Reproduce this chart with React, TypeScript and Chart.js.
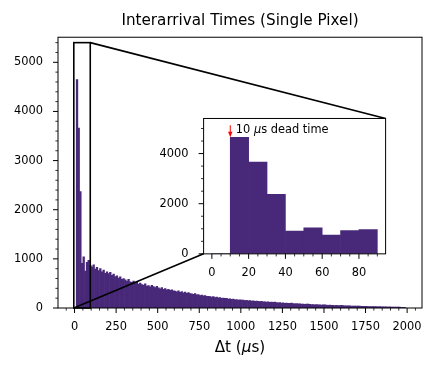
import React, { useEffect, useRef } from "react";
import { Chart, registerables } from "chart.js";

Chart.register(...registerables);

// ---------- data ----------
const BIN_WIDTH = 10; // µs
const FIRST_BIN_START = 0; // µs

// counts per 10 µs bin, bins 0-10, 10-20, ... 1980-1990
const counts: number[] = [
  0, 4650, 3660, 2370, 910, 1040, 750, 930, 970, 870,
  840, 880, 790, 830, 760, 800, 735, 770, 705, 735,
  700, 725, 665, 690, 640, 655, 610, 635, 585, 600,
  575, 550, 585, 535, 520, 550, 500, 525, 485, 505,
  478, 465, 490, 448, 455, 430, 462, 438, 418, 440,
  408, 392, 415, 378, 395, 368, 382, 358, 372, 348,
  342, 328, 350, 318, 332, 308, 322, 300, 312, 292,
  290, 278, 292, 266, 272, 255, 264, 246, 252, 238,
  236, 230, 222, 234, 212, 220, 206, 214, 198, 202,
  195, 198, 184, 188, 174, 182, 168, 173, 163, 168,
  160, 163, 150, 154, 146, 150, 140, 144, 137, 141,
  136, 130, 137, 125, 128, 120, 125, 116, 120, 113,
  118, 112, 106, 109, 101, 104, 97, 100, 93, 96,
  98, 92, 87, 89, 83, 85, 79, 81, 77, 79,
  80, 75, 70, 72, 67, 69, 63, 65, 61, 63,
  66, 60, 56, 58, 53, 55, 50, 52, 48, 50,
  52, 48, 44, 45, 42, 43, 40, 41, 38, 39,
  40, 37, 34, 35, 32, 33, 30, 31, 29, 30,
  30, 28, 26, 27, 24, 25, 23, 23, 21, 22,
  21, 20, 19, 19, 18, 17, 16, 16, 15,
];

const INSET_BIN_COUNT = 9; // bins 0-10 ... 80-90

const TITLE = "Interarrival Times (Single Pixel)";
const XLABEL_PARTS = ["Δt (", "μ", "s)"];
const ANNOT_PARTS = ["10 ", "μ", "s dead time"];
const DEAD_TIME = 10;

// axis ranges and ticks
const MAIN_X_RANGE = [-99.5, 2089.5];
const MAIN_Y_RANGE = [0, 5510];
const MAIN_X_TICKS = { from: -50, to: 2050, minor: 50, major: 250 };
const MAIN_Y_TICKS = { from: 0, to: 5400, minor: 200, major: 1000 };

const INSET_X_RANGE = [-4.5, 94.5];
const INSET_Y_RANGE = [0, 5400];
const INSET_X_TICKS = { from: 0, to: 90, minor: 5, major: 20 };
const INSET_Y_TICKS = { from: 0, to: 5000, minor: 500, major: 2000 };

// ---------- style ----------
const W = 437;
const H = 373;
const FONT = '"DejaVu Sans", "Liberation Sans", sans-serif';
const BAR_COLOR = "#482878";
const TICK_FONT_SIZE = 11.4;
const AREA = { left: 58, right: 422, top: 37.24, bottom: 308 };
const INSET_FRAC = { x: 0.4, y: 0.2, w: 0.5, h: 0.5 };

const areaW = AREA.right - AREA.left;
const areaH = AREA.bottom - AREA.top;
const INSET_AREA = {
  left: AREA.left + INSET_FRAC.x * areaW,
  right: AREA.left + (INSET_FRAC.x + INSET_FRAC.w) * areaW,
  bottom: AREA.bottom - INSET_FRAC.y * areaH,
  top: AREA.bottom - (INSET_FRAC.y + INSET_FRAC.h) * areaH,
};

type TickSpec = { from: number; to: number; minor: number; major: number };

function isMajor(v: number, step: number) {
  return Math.abs(v / step - Math.round(v / step)) < 1e-6;
}

function tickValues(t: TickSpec, majorOnly: boolean) {
  const out: number[] = [];
  for (let v = t.from; v <= t.to + 1e-9; v += t.minor) {
    const r = Math.round(v * 1000) / 1000;
    if (!majorOnly || isMajor(r, t.major)) out.push(r);
  }
  return out;
}

const binData = counts.map((c, i) => ({ x: FIRST_BIN_START + (i + 0.5) * BIN_WIDTH, y: c }));
const insetData = binData.slice(0, INSET_BIN_COUNT);

function drawTickMarks(chart: any, xs: TickSpec, ys: TickSpec) {
  const { ctx, chartArea: ca, scales } = chart;
  ctx.save();
  ctx.strokeStyle = "#000";
  for (const v of tickValues(xs, false)) {
    const major = isMajor(v, xs.major);
    const p = scales.x.getPixelForValue(v);
    ctx.lineWidth = major ? 1 : 0.8;
    ctx.beginPath();
    ctx.moveTo(p, ca.bottom);
    ctx.lineTo(p, ca.bottom + (major ? 5 : 2.6));
    ctx.stroke();
  }
  for (const v of tickValues(ys, false)) {
    const major = isMajor(v, ys.major);
    const p = scales.y.getPixelForValue(v);
    ctx.lineWidth = major ? 1 : 0.8;
    ctx.beginPath();
    ctx.moveTo(ca.left, p);
    ctx.lineTo(ca.left - (major ? 5 : 2.6), p);
    ctx.stroke();
  }
  ctx.lineWidth = 1;
  ctx.strokeRect(ca.left, ca.top, ca.right - ca.left, ca.bottom - ca.top);
  ctx.restore();
}

function drawMixed(ctx: CanvasRenderingContext2D, parts: string[], italicIdx: number, x: number, y: number, size: number, align: "left" | "center") {
  const fonts = parts.map((_, i) => `${i === italicIdx ? "italic " : ""}${size}px ${FONT}`);
  const widths = parts.map((p, i) => {
    ctx.font = fonts[i];
    return ctx.measureText(p).width;
  });
  const total = widths.reduce((a, b) => a + b, 0);
  let cx = align === "center" ? x - total / 2 : x;
  ctx.textAlign = "left";
  ctx.textBaseline = "middle";
  ctx.fillStyle = "#000";
  parts.forEach((p, i) => {
    ctx.font = fonts[i];
    ctx.fillText(p, cx, y);
    cx += widths[i];
  });
}

const mainDecor = {
  id: "mainDecor",
  afterDatasetsDraw(chart: any) {
    const { ctx, chartArea: ca, scales } = chart;
    drawTickMarks(chart, MAIN_X_TICKS, MAIN_Y_TICKS);
    const rx0 = scales.x.getPixelForValue(INSET_X_RANGE[0]);
    const rx1 = scales.x.getPixelForValue(INSET_X_RANGE[1]);
    const ry0 = scales.y.getPixelForValue(INSET_Y_RANGE[0]);
    const ry1 = scales.y.getPixelForValue(INSET_Y_RANGE[1]);
    ctx.save();
    ctx.strokeStyle = "#000";
    ctx.lineWidth = 1.6;
    ctx.strokeRect(rx0, ry1, rx1 - rx0, ry0 - ry1);
    ctx.beginPath();
    ctx.moveTo(rx1, ry1);
    ctx.lineTo(INSET_AREA.right, INSET_AREA.top);
    ctx.moveTo(rx0, ry0);
    ctx.lineTo(INSET_AREA.left, INSET_AREA.bottom);
    ctx.stroke();
    drawMixed(ctx, XLABEL_PARTS, 1, (ca.left + ca.right) / 2, 348, 15.2, "center");
    ctx.restore();
  },
};

const insetDecor = {
  id: "insetDecor",
  beforeDraw(chart: any) {
    const { ctx, chartArea: ca } = chart;
    ctx.save();
    ctx.fillStyle = "#fff";
    ctx.fillRect(ca.left, ca.top, ca.right - ca.left, ca.bottom - ca.top);
    ctx.restore();
  },
  afterDatasetsDraw(chart: any) {
    const { ctx, scales } = chart;
    drawTickMarks(chart, INSET_X_TICKS, INSET_Y_TICKS);
    const ax = scales.x.getPixelForValue(DEAD_TIME);
    const yTail = scales.y.getPixelForValue(5130);
    const yTip = scales.y.getPixelForValue(counts[1]);
    ctx.save();
    ctx.strokeStyle = "#ff0000";
    ctx.fillStyle = "#ff0000";
    ctx.lineWidth = 1;
    ctx.beginPath();
    ctx.moveTo(ax, yTail);
    ctx.lineTo(ax, yTip - 4);
    ctx.stroke();
    ctx.beginPath();
    ctx.moveTo(ax - 2.2, yTip - 5.5);
    ctx.lineTo(ax + 2.2, yTip - 5.5);
    ctx.lineTo(ax, yTip);
    ctx.closePath();
    ctx.fill();
    drawMixed(ctx, ANNOT_PARTS, 1, scales.x.getPixelForValue(13), scales.y.getPixelForValue(4930), TICK_FONT_SIZE, "left");
    ctx.restore();
  },
};

function scaleOpts(range: number[], ticks: TickSpec, labelPad: number, fit: (s: any) => void) {
  return {
    type: "linear" as const,
    min: range[0],
    max: range[1],
    offset: false,
    grid: { display: false, drawTicks: false, tickLength: 0, offset: false },
    border: { display: false },
    afterBuildTicks: (s: any) => {
      s.ticks = tickValues(ticks, true).map((v) => ({ value: v }));
    },
    afterFit: fit,
    ticks: {
      autoSkip: false,
      maxRotation: 0,
      minRotation: 0,
      padding: labelPad,
      color: "#000",
      font: { family: FONT, size: TICK_FONT_SIZE },
      callback: (v: any) => String(v),
    },
  };
}

export default function App() {
  const mainRef = useRef<HTMLCanvasElement>(null);
  const insetRef = useRef<HTMLCanvasElement>(null);

  useEffect(() => {
    const yAxisW = 50;
    const xAxisH = 65;
    const main = new Chart(mainRef.current as HTMLCanvasElement, {
      type: "bar",
      data: {
        datasets: [
          {
            data: binData as any,
            backgroundColor: BAR_COLOR,
            borderWidth: 0,
            barPercentage: 1,
            categoryPercentage: 1,
          },
        ],
      },
      options: {
        animation: false,
        responsive: false,
        devicePixelRatio: 1,
        events: [],
        layout: { padding: { left: AREA.left - yAxisW, right: W - AREA.right, top: 0, bottom: H - AREA.bottom - xAxisH } },
        plugins: {
          legend: { display: false },
          tooltip: { enabled: false },
          title: {
            display: true,
            text: TITLE,
            fullSize: false,
            color: "#000",
            font: { family: FONT, size: 15.2, weight: "normal" as any },
            padding: { top: 11.6, bottom: 7.4 },
          },
        },
        scales: {
          x: { ...scaleOpts(MAIN_X_RANGE, MAIN_X_TICKS, 12, (s: any) => { s.height = xAxisH; }), position: "bottom" },
          y: { ...scaleOpts(MAIN_Y_RANGE, MAIN_Y_TICKS, 15, (s: any) => { s.width = yAxisW; }), position: "left" },
        } as any,
      },
      plugins: [mainDecor],
    });

    const iyW = 60;
    const ixH = 30;
    const inset = new Chart(insetRef.current as HTMLCanvasElement, {
      type: "bar",
      data: {
        datasets: [
          {
            data: insetData as any,
            backgroundColor: BAR_COLOR,
            borderWidth: 0,
            barPercentage: 1,
            categoryPercentage: 1,
          },
        ],
      },
      options: {
        animation: false,
        responsive: false,
        devicePixelRatio: 1,
        events: [],
        layout: {
          padding: {
            left: INSET_AREA.left - iyW,
            right: W - INSET_AREA.right,
            top: INSET_AREA.top,
            bottom: H - INSET_AREA.bottom - ixH,
          },
        },
        plugins: { legend: { display: false }, tooltip: { enabled: false }, title: { display: false } },
        scales: {
          x: { ...scaleOpts(INSET_X_RANGE, INSET_X_TICKS, 12, (s: any) => { s.height = ixH; }), position: "bottom" },
          y: { ...scaleOpts(INSET_Y_RANGE, INSET_Y_TICKS, 15, (s: any) => { s.width = iyW; }), position: "left" },
        } as any,
      },
      plugins: [insetDecor],
    });

    return () => {
      main.destroy();
      inset.destroy();
    };
  }, []);

  return (
    <div style={{ position: "fixed", left: 0, top: 0, width: W, height: H, background: "#fff" }}>
      <canvas ref={mainRef} width={W} height={H} style={{ position: "absolute", left: 0, top: 0 }} />
      <canvas ref={insetRef} width={W} height={H} style={{ position: "absolute", left: 0, top: 0 }} />
    </div>
  );
}
